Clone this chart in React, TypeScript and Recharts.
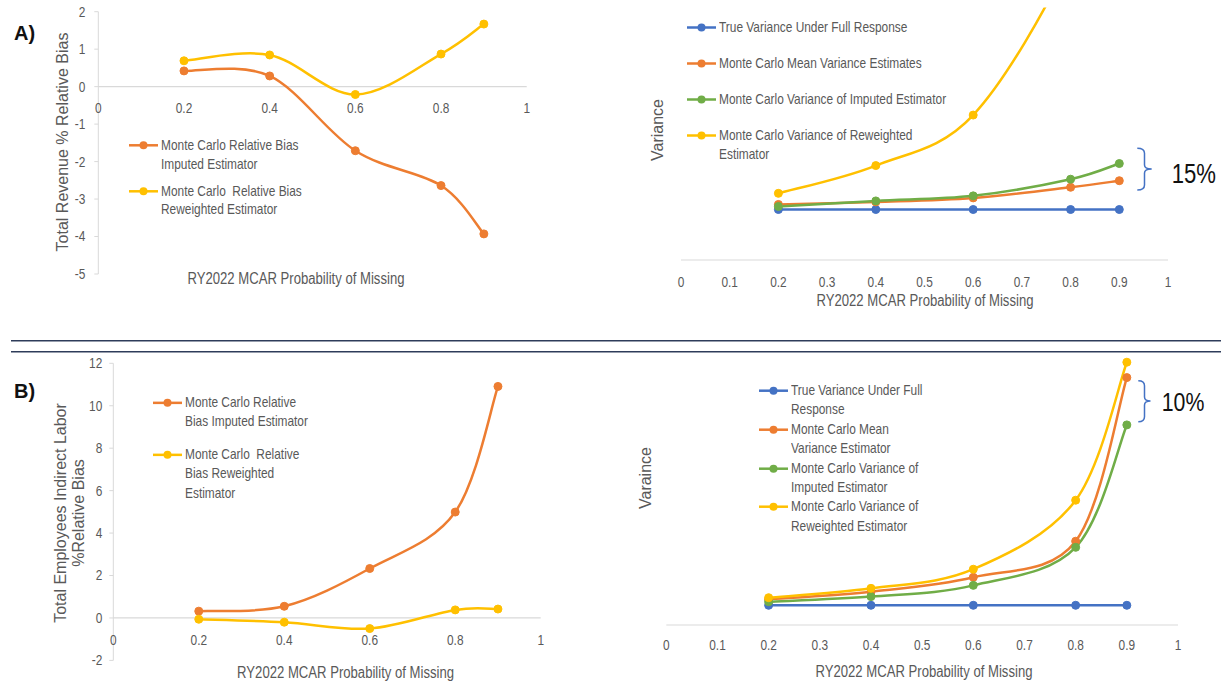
import React from 'react';
import { LineChart, Line, XAxis, YAxis, ReferenceLine, Legend } from 'recharts';

// x positions (probability of missing) shared by every series
const PROB_MISSING = [0.2, 0.4, 0.6, 0.8, 0.9];
const BIAS_X_TICKS = [0, 0.2, 0.4, 0.6, 0.8, 1];
const VAR_X_TICKS = [0, 0.1, 0.2, 0.3, 0.4, 0.5, 0.6, 0.7, 0.8, 0.9, 1];
const REV_BIAS_TICKS = [-5, -4, -3, -2, -1, 0, 1, 2];
const LABOR_BIAS_TICKS = [-2, 0, 2, 4, 6, 8, 10, 12];

// A) total revenue
const REV_BIAS_IMPUTED = [0.42, 0.285, -1.71, -2.64, -3.93];
const REV_BIAS_REWEIGHTED = [0.69, 0.845, -0.21, 0.87, 1.67];
const REV_VAR_TRUE = [1, 1, 1, 1, 1];
const REV_VAR_MEAN_EST = [1.1, 1.15, 1.23, 1.44, 1.57];
const REV_VAR_IMPUTED = [1.06, 1.17, 1.27, 1.6, 1.91];
const REV_VAR_REWEIGHTED = [1.32, 1.87, 2.87, 6.0, 9.0];

// B) total employees indirect labor
const LAB_BIAS_IMPUTED = [0.32, 0.55, 2.33, 4.99, 10.91];
const LAB_BIAS_REWEIGHTED = [-0.06, -0.2, -0.5, 0.38, 0.42];
const LAB_VAR_TRUE = [1, 1, 1, 1, 1];
const LAB_VAR_MEAN_EST = [1.3, 1.69, 2.42, 4.25, 12.55];
const LAB_VAR_IMPUTED = [1.18, 1.44, 2.01, 3.94, 10.15];
const LAB_VAR_REWEIGHTED = [1.385, 1.86, 2.83, 6.33, 13.33];

const BLUE = '#4472C4';
const ORANGE = '#ED7D31';
const GREEN = '#70AD47';
const YELLOW = '#FFC000';
const TEXT = '#595959';
const AXIS = '#D9D9D9';
const FONT = "'Liberation Sans', Arial, sans-serif";
const SX = 0.82; // the picture is squeezed sideways, so horizontal text is narrowed

const revBiasRows = PROB_MISSING.map((p, i) => ({ p, imputed: REV_BIAS_IMPUTED[i], reweighted: REV_BIAS_REWEIGHTED[i] }));
const revVarRows = PROB_MISSING.map((p, i) => ({
  p, truth: REV_VAR_TRUE[i], mean: REV_VAR_MEAN_EST[i], imputed: REV_VAR_IMPUTED[i], reweighted: REV_VAR_REWEIGHTED[i],
}));
const labBiasRows = PROB_MISSING.map((p, i) => ({ p, imputed: LAB_BIAS_IMPUTED[i], reweighted: LAB_BIAS_REWEIGHTED[i] }));
const labVarRows = PROB_MISSING.map((p, i) => ({
  p, truth: LAB_VAR_TRUE[i], mean: LAB_VAR_MEAN_EST[i], imputed: LAB_VAR_IMPUTED[i], reweighted: LAB_VAR_REWEIGHTED[i],
}));

const SERIES_ORDER = ['truth', 'mean', 'imputed', 'reweighted'];

// Excel style smoothed line (catmull-rom through the points)
const excelCurve = (context: any) => {
  let pts: number[][] = [];
  return {
    areaStart() {},
    areaEnd() {},
    lineStart() { pts = []; },
    point(x: number, y: number) { pts.push([+x, +y]); },
    lineEnd() {
      const n = pts.length;
      if (!n) return;
      context.moveTo(pts[0][0], pts[0][1]);
      for (let i = 0; i < n - 1; i++) {
        const p0 = pts[i - 1] || pts[i];
        const p1 = pts[i];
        const p2 = pts[i + 1];
        const p3 = pts[i + 2] || p2;
        context.bezierCurveTo(
          p1[0] + (p2[0] - p0[0]) / 6, p1[1] + (p2[1] - p0[1]) / 6,
          p2[0] - (p3[0] - p1[0]) / 6, p2[1] - (p3[1] - p1[1]) / 6,
          p2[0], p2[1],
        );
      }
    },
  };
};

const narrowText = (x: number, y: number, content: any, opts: any = {}) => (
  <text
    transform={`translate(${x} ${y}) scale(${SX} 1)`}
    textAnchor={opts.anchor || 'middle'}
    dominantBaseline={opts.baseline || 'auto'}
    fontSize={opts.size || 14.5}
    fontFamily={FONT}
    fill={opts.fill || TEXT}
  >
    {content}
  </text>
);

const xTick = (dy: number) => (props: any) => narrowText(props.x, props.y + dy, props.payload.value);
const yTick = (props: any) => narrowText(props.x, props.y, props.payload.value, { anchor: 'end', baseline: 'central' });

const makeLegend = (lineHeight: number, gap: number) => (props: any) => {
  const items = [...(props.payload || [])].sort(
    (a: any, b: any) => SERIES_ORDER.indexOf(a.dataKey) - SERIES_ORDER.indexOf(b.dataKey),
  );
  return (
    <div style={{ fontFamily: FONT, fontSize: 14.5, color: TEXT, textAlign: 'left' }}>
      {items.map((e: any) => (
        <div key={e.dataKey} style={{ display: 'flex', alignItems: 'flex-start', marginBottom: gap, lineHeight: `${lineHeight}px` }}>
          <svg width={32} height={lineHeight} style={{ flex: 'none' }}>
            <line x1={0} x2={29} y1={lineHeight / 2} y2={lineHeight / 2} stroke={e.color} strokeWidth={2.5} />
            <circle cx={14.5} cy={lineHeight / 2} r={4} fill={e.color} />
          </svg>
          <div style={{ whiteSpace: 'pre', transform: `scaleX(${SX})`, transformOrigin: 'left center' }}>{e.value}</div>
        </div>
      ))}
    </div>
  );
};

const legendAt = (left: number, top: number, lineHeight: number, gap: number) => (
  <Legend
    layout="horizontal"
    verticalAlign="middle"
    align="center"
    itemSorter={(item: any) => SERIES_ORDER.indexOf(item.dataKey)}
    wrapperStyle={{ left, top, width: 260 }}
    content={makeLegend(lineHeight, gap)}
  />
);

const series = (key: string, name: string, color: string) => (
  <Line
    key={key}
    type={excelCurve as any}
    dataKey={key}
    name={name}
    stroke={color}
    strokeWidth={2.5}
    dot={{ r: 4, fill: color, stroke: color, strokeWidth: 1 }}
    activeDot={false}
    isAnimationActive={false}
  />
);

// distance from the bottom of a plot box up to its zero line
const zeroShift = (top: number, bottom: number, lo: number, hi: number) => -((0 - lo) / (hi - lo)) * (bottom - top);

const RevenueBias = () => (
  <LineChart width={560} height={300} data={revBiasRows} margin={{ top: 11.7, right: 33.3, bottom: 6, left: 58.3 }}>
    <XAxis type="number" dataKey="p" domain={[0, 1]} ticks={BIAS_X_TICKS} interval={0} axisLine={false} tickLine={false}
      tickSize={0} tickMargin={0} height={20} tick={xTick(zeroShift(11.7, 274, -5, 2) + 26)} />
    <YAxis type="number" domain={[-5, 2]} ticks={REV_BIAS_TICKS} interval={0} width={40} axisLine={{ stroke: AXIS }}
      tickLine={{ stroke: AXIS }} tickSize={4} tickMargin={9} tick={yTick} />
    <ReferenceLine y={0} stroke={AXIS} strokeWidth={1.2} />
    {legendAt(129, 136.4, 18.6, 8)}
    {series('imputed', 'Monte Carlo Relative Bias\nImputed Estimator', ORANGE)}
    {series('reweighted', 'Monte Carlo  Relative Bias\nReweighted Estimator', YELLOW)}
  </LineChart>
);

const RevenueVariance = () => (
  <LineChart width={600} height={320} data={revVarRows} margin={{ top: 7.5, right: 32, bottom: 30, left: 81 }}>
    <XAxis type="number" dataKey="p" domain={[0, 1]} ticks={VAR_X_TICKS} interval={0} axisLine={{ stroke: AXIS, strokeWidth: 1.2 }}
      tickLine={false} tickSize={0} tickMargin={0} height={30} tick={xTick(26.7)} />
    <YAxis type="number" domain={[0, 5]} allowDataOverflow hide />
    {legendAt(86.7, 18.2, 19, 17)}
    {series('truth', 'True Variance Under Full Response', BLUE)}
    {series('mean', 'Monte Carlo Mean Variance Estimates', ORANGE)}
    {series('imputed', 'Monte Carlo Variance of Imputed Estimator', GREEN)}
    {series('reweighted', 'Monte Carlo Variance of Reweighted\nEstimator', YELLOW)}
  </LineChart>
);

const LaborBias = () => (
  <LineChart width={580} height={336} data={labBiasRows} margin={{ top: 18.3, right: 39.3, bottom: 10.6, left: 73.3 }}>
    <XAxis type="number" dataKey="p" domain={[0, 1]} ticks={BIAS_X_TICKS} interval={0} axisLine={false} tickLine={false}
      tickSize={0} tickMargin={0} height={10} tick={xTick(zeroShift(18.3, 315.4, -2, 12) + 27)} />
    <YAxis type="number" domain={[-2, 12]} ticks={LABOR_BIAS_TICKS} interval={0} width={40} axisLine={{ stroke: AXIS }}
      tickLine={{ stroke: AXIS }} tickSize={4} tickMargin={7} tick={yTick} />
    <ReferenceLine y={0} stroke={AXIS} strokeWidth={1.2} />
    {legendAt(152.7, 47.5, 19.7, 12.6)}
    {series('imputed', 'Monte Carlo Relative\nBias Imputed Estimator', ORANGE)}
    {series('reweighted', 'Monte Carlo  Relative\nBias Reweighted\nEstimator', YELLOW)}
  </LineChart>
);

const LaborVariance = () => (
  <LineChart width={621} height={336} data={labVarRows} margin={{ top: 4, right: 43, bottom: 26, left: 66.3 }}>
    <XAxis type="number" dataKey="p" domain={[0, 1]} ticks={VAR_X_TICKS} interval={0} axisLine={{ stroke: AXIS, strokeWidth: 1.2 }}
      tickLine={false} tickSize={0} tickMargin={0} height={30} tick={xTick(25)} />
    <YAxis type="number" domain={[0, 14]} allowDataOverflow hide />
    {legendAt(159.3, 36, 19.4, 0)}
    {series('truth', 'True Variance Under Full\nResponse', BLUE)}
    {series('mean', 'Monte Carlo Mean\nVariance Estimator', ORANGE)}
    {series('imputed', 'Monte Carlo Variance of\nImputed Estimator', GREEN)}
    {series('reweighted', 'Monte Carlo Variance of\nReweighted Estimator', YELLOW)}
  </LineChart>
);

const brace = (x0: number, x1: number, tip: number, top: number, mid: number, bot: number) =>
  `M${x0},${top} Q${x1},${top} ${x1},${top + 5} L${x1},${mid - 4} Q${x1},${mid} ${tip},${mid} ` +
  `Q${x1},${mid} ${x1},${mid + 4} L${x1},${bot - 5} Q${x1},${bot} ${x0},${bot}`;

const vLabel = (text: string, x: number, y: number) => (
  <text x={x} y={y} transform={`rotate(-90 ${x} ${y})`} textAnchor="middle" dominantBaseline="central"
    fontSize={16} fontFamily={FONT} fill={TEXT}>{text}</text>
);

const hLabel = (text: string, x: number, y: number) => narrowText(x, y, text, { size: 16, baseline: 'central' });

export default function App() {
  return (
    <div style={{ position: 'absolute', left: 0, top: 0, width: 1221, height: 681, background: '#fff', overflow: 'hidden' }}>
      <div style={{ position: 'absolute', left: 0, top: 0 }}><RevenueBias /></div>
      <div style={{ position: 'absolute', left: 600, top: 0 }}><RevenueVariance /></div>
      <div style={{ position: 'absolute', left: 0, top: 345 }}><LaborBias /></div>
      <div style={{ position: 'absolute', left: 600, top: 345 }}><LaborVariance /></div>
      <svg width={1221} height={681} style={{ position: 'absolute', left: 0, top: 0, pointerEvents: 'none' }}>
        <text x={14} y={40} fontSize={20} fontWeight="bold" fontFamily={FONT} fill="#111">A)</text>
        <text x={14} y={397.5} fontSize={20} fontWeight="bold" fontFamily={FONT} fill="#111">B)</text>
        <line x1={11} x2={1221} y1={340.7} y2={340.7} stroke="#2E3C5A" strokeWidth={1.5} />
        <line x1={11} x2={1221} y1={351.7} y2={351.7} stroke="#2E3C5A" strokeWidth={1.5} />

        {vLabel('Total Revenue % Relative Bias', 62, 142)}
        {hLabel('RY2022 MCAR Probability of Missing', 296, 279)}
        {vLabel('Variance', 657, 130)}
        {hLabel('RY2022 MCAR Probability of Missing', 925, 301)}
        {vLabel('Total Employees Indirect Labor', 60, 513)}
        {vLabel('%Relative Bias', 78, 513)}
        {hLabel('RY2022 MCAR Probability of Missing', 345.6, 673)}
        {vLabel('Varaince', 645, 478)}
        {hLabel('RY2022 MCAR Probability of Missing', 924, 672)}

        <path d={brace(1137.3, 1144.5, 1151.7, 148.3, 169, 190)} fill="none" stroke={BLUE} strokeWidth={1.5} />
        {narrowText(1171.7, 182.7, '15%', { anchor: 'start', size: 27, fill: '#111' })}
        <path d={brace(1138.3, 1144.5, 1150.5, 380.7, 401, 421.7)} fill="none" stroke={BLUE} strokeWidth={1.5} />
        {narrowText(1161.7, 410.5, '10%', { anchor: 'start', size: 26, fill: '#111' })}
      </svg>
    </div>
  );
}
